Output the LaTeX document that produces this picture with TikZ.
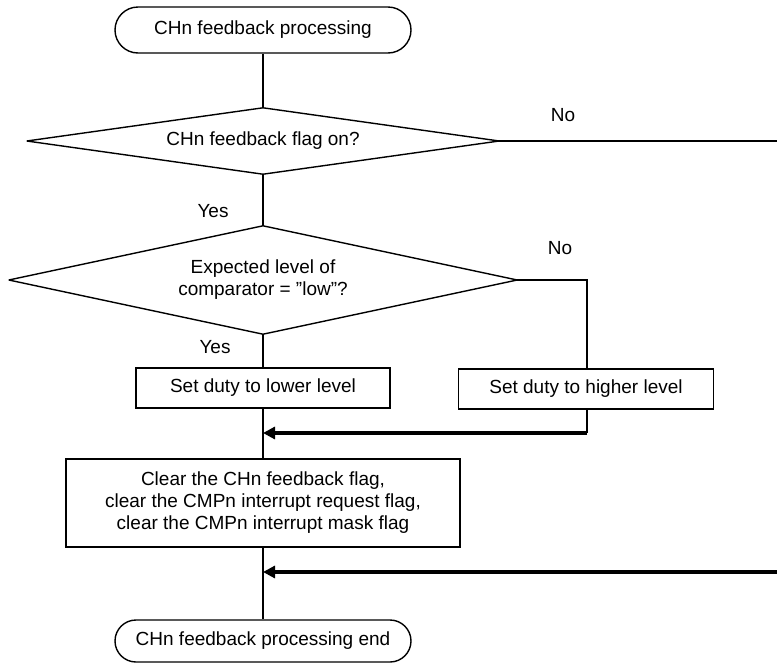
\documentclass[tikz,border=0pt]{standalone}
\usepackage{fontspec}
\setmainfont{Liberation Sans}
\usetikzlibrary{arrows.meta,shapes.misc}
\begin{document}
\begin{tikzpicture}[x=1pt,y=-1pt,
  font=\fontsize{19}{22}\selectfont,
  flow/.style={line width=1.4pt},
  merge/.style={line width=4pt,-{Triangle[length=12pt,width=12pt]}},
  terminal/.style={draw,line width=1.4pt,rounded rectangle,minimum width=296pt,minimum height=46pt,inner sep=0pt},
  procbox/.style={draw,line width=1.4pt,rectangle,align=center,inner sep=0pt},
  decision/.style={rectangle,align=center,inner sep=0pt},
  diamondline/.style={line width=1.4pt,line join=bevel},
  lbl/.style={inner sep=0pt}]
\useasboundingbox (0,0) rectangle (777,662);

% start / end terminals
\node[terminal] (start) at (263,30) {CHn feedback processing};
\node[terminal,minimum height=42pt] (stop) at (263,641) {CHn feedback processing end};

% decisions
\node[decision,minimum width=472pt,minimum height=66pt] (d1) at (263,141) {CHn feedback flag on?};
\draw[diamondline] (d1.north) -- (d1.east) -- (d1.south) -- (d1.west) -- cycle;
\node[decision,minimum width=508pt,minimum height=108pt] (d2) at (263,280) {Expected level of\\comparator = "low"?};
\draw[diamondline] (d2.north) -- (d2.east) -- (d2.south) -- (d2.west) -- cycle;

% processes
\node[procbox,minimum width=254pt,minimum height=40pt] (b1) at (263,388) {Set duty to lower level};
\node[procbox,minimum width=255pt,minimum height=40pt] (b2) at (586,389) {Set duty to higher level};
\node[procbox,minimum width=394pt,minimum height=88pt] (b3) at (263,503)
  {Clear the CHn feedback flag,\\clear the CMPn interrupt request flag,\\clear the CMPn interrupt mask flag};

% branch labels
\node[lbl] (no1) at (563,115) {No};
\node[lbl] (yes1) at (213,211) {Yes};
\node[lbl] (no2) at (560,248) {No};
\node[lbl] (yes2) at (215,347) {Yes};

% helper points
\coordinate (r1) at (779,141);
\coordinate (r2) at (779,572);
\coordinate (e2) at (587,280);
\coordinate (m1) at (587,433);

% main flow
\draw[flow] (start.south) -- (d1.north);
\draw[flow] (d1.south) -- (d2.north);
\draw[flow] (d2.south) -- (b1.north);
\draw[flow] (b1.south) -- (b3.north);
\draw[flow] (b3.south) -- (stop.north);

% "No" branches
\draw[flow] (d1.east) -- (r1);
\draw[flow] (d2.east) -- (e2) -- (e2 |- b2.north);
\draw[flow] (b2.south -| m1) -- (m1);
\draw[merge] (m1) -- (m1 -| b1.south);
\draw[merge] (r2) -- (r2 -| b3.south);
\end{tikzpicture}
\end{document}
